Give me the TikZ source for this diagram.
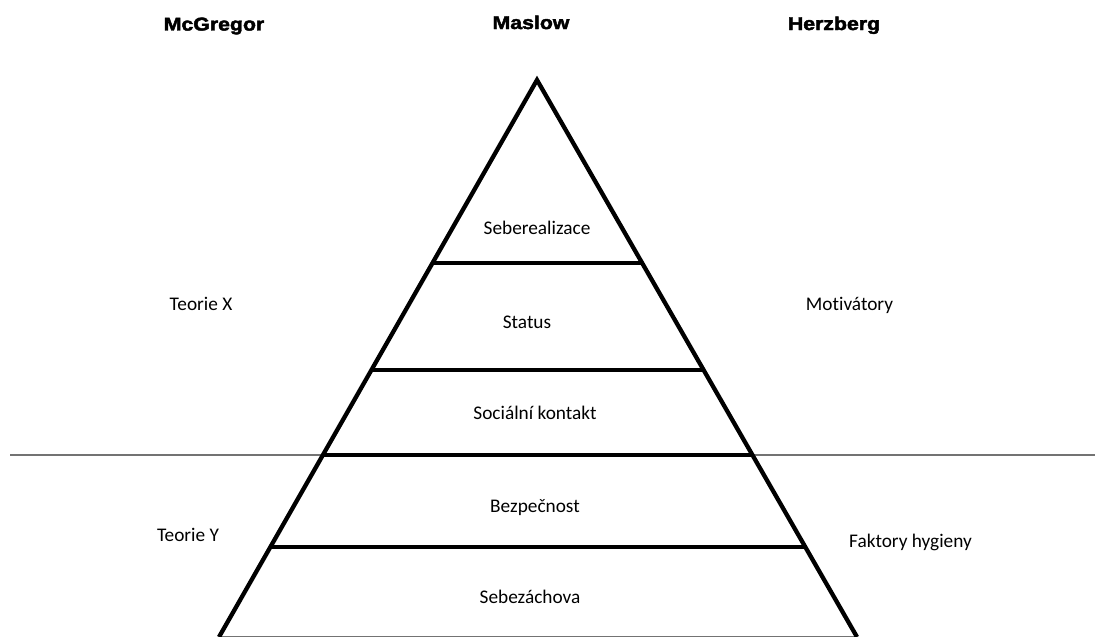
\documentclass[tikz,border=0pt]{standalone}
\usepackage{fontspec}
\setmainfont[Ligatures=NoCommon]{Carlito}
\newfontfamily\hdrfont[FakeStretch=1.15,FakeBold=2.5]{Liberation Sans Bold}
\begin{document}
\begin{tikzpicture}[x=1pt,y=-1pt,
  hdr/.style={anchor=base,inner sep=0pt,font=\hdrfont\fontsize{18.5}{21}\selectfont},
  lbl/.style={anchor=base,inner sep=0pt,font=\fontsize{19.3}{23}\selectfont},
  thick edge/.style={line width=4.3pt,line cap=butt,line join=miter},
  thin rule/.style={line width=1.2pt,draw=black!55}]
\useasboundingbox (0,0) rectangle (1095,637);
\fill[white] (0,0) rectangle (1095,637);
% pyramid geometry
\coordinate (apex) at (537,80);
\coordinate (bl) at (219,637);
\coordinate (br) at (857,637);
\coordinate (l1) at (432,263);
\coordinate (r1) at (642,263);
\coordinate (l2) at (371,370);
\coordinate (r2) at (704,370);
\coordinate (l3) at (323,455);
\coordinate (r3) at (752,455);
\coordinate (l4) at (270,547);
\coordinate (r4) at (805,547);
\coordinate (hl) at (10,455);
\coordinate (hr) at (1095,455);
% divider line
\draw[thin rule] (hl) -- (hr);
\draw[thin rule] (bl) -- (br);
% pyramid
\draw[thick edge] (bl) -- (apex) -- (br);
\draw[thick edge] (l1) -- (r1);
\draw[thick edge] (l2) -- (r2);
\draw[thick edge] (l3) -- (r3);
\draw[thick edge] (l4) -- (r4);
% headers
\node[hdr] (mcg) at (214,30.5) {McGregor};
\node[hdr] (mas) at (531,29) {Maslow};
\node[hdr] (her) at (834,30) {Herzberg};
% levels
\node[lbl] (s1) at (537,234) {Seberealizace};
\node[lbl] (s2) at (527,328) {Status};
\node[lbl] (s3) at (535,419) {Sociální kontakt};
\node[lbl] (s4) at (535,512) {Bezpečnost};
\node[lbl] (s5) at (530,603) {Sebezáchova};
% sides
\node[lbl] (tx) at (201,310) {Teorie X};
\node[lbl] (ty) at (188,541) {Teorie Y};
\node[lbl] (mo) at (849.5,310) {Motivátory};
\node[lbl] (fh) at (910.5,547.5) {Faktory hygieny};
\end{tikzpicture}
\end{document}
